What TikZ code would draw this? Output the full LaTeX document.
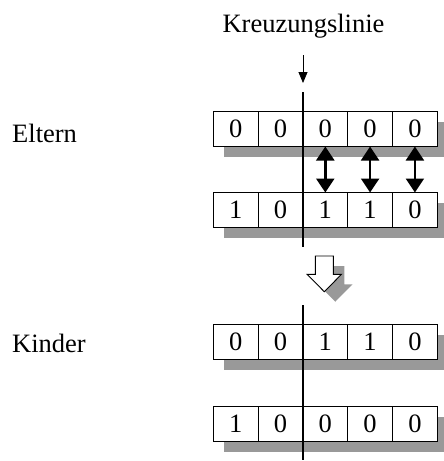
\documentclass[tikz,border=0pt]{standalone}
\usepackage{fontspec}
\setmainfont{Liberation Serif}
\usepackage{tikz}
\usetikzlibrary{arrows.meta,positioning,backgrounds}

\begin{document}
\begin{tikzpicture}[
			x=1pt,y=-1pt,
			node distance=0pt,
			bit/.style={rectangle,draw,fill=white,line width=0.9pt,minimum width=44.8pt,minimum height=35pt,inner sep=0pt,outer sep=0pt,font=\fontsize{26.5}{30}\selectfont},
			tag/.style={inner sep=0pt,font=\fontsize{26.5}{30}\selectfont},
			schatten/.style={fill=black!40},
			kreuz/.style={line width=2.6pt},
			tausch/.style={{Triangle[width=18pt,length=14pt]}-{Triangle[width=18pt,length=14pt]},line width=2.4pt},
			hohl/.style={draw,fill=white,line width=0.9pt,line join=miter}
		]
		\useasboundingbox (0,0) rectangle (444,461);

		\node[tag,anchor=base] (kl) at (303.5,32) {Kreuzungslinie};
		\node[tag,anchor=base west] (eltern) at (12,142) {Eltern};
		\node[tag,anchor=base west] (kinder) at (12,352.7) {Kinder};

		% Eltern
		\node[bit] (ea1) at (235.7,129) {0};
		\node[bit,right=of ea1] (ea2) {0};
		\node[bit,right=of ea2] (ea3) {0};
		\node[bit,right=of ea3] (ea4) {0};
		\node[bit,right=of ea4] (ea5) {0};

		\node[bit] (eb1) at (235.7,210) {1};
		\node[bit,right=of eb1] (eb2) {0};
		\node[bit,right=of eb2] (eb3) {1};
		\node[bit,right=of eb3] (eb4) {1};
		\node[bit,right=of eb4] (eb5) {0};

		% Kinder
		\node[bit] (ka1) at (235.7,342) {0};
		\node[bit,right=of ka1] (ka2) {0};
		\node[bit,right=of ka2] (ka3) {1};
		\node[bit,right=of ka3] (ka4) {1};
		\node[bit,right=of ka4] (ka5) {0};

		\node[bit] (kb1) at (235.7,424) {1};
		\node[bit,right=of kb1] (kb2) {0};
		\node[bit,right=of kb2] (kb3) {0};
		\node[bit,right=of kb3] (kb4) {0};
		\node[bit,right=of kb4] (kb5) {0};

		% Schatten unter den Zeilen
		\begin{scope}[on background layer]
			\fill[schatten] ([shift={(11,10)}]ea1.north west) rectangle ([shift={(11,10)}]ea5.south east);
			\fill[schatten] ([shift={(11,10)}]eb1.north west) rectangle ([shift={(11,10)}]eb5.south east);
			\fill[schatten] ([shift={(11,10)}]ka1.north west) rectangle ([shift={(11,10)}]ka5.south east);
			\fill[schatten] ([shift={(11,10)}]kb1.north west) rectangle ([shift={(11,10)}]kb5.south east);
		\end{scope}

		% Kreuzungslinie
		\coordinate (zs) at (303,55);
		\coordinate (ze) at (303,83);
		\coordinate (kt1) at (303,92);
		\coordinate (kb1) at (303,247);
		\coordinate (kt2) at (303,305);
		\coordinate (kb2) at (303,460);

		\draw[-{Triangle[width=9pt,length=11pt]},line width=0.8pt] (zs) -- (ze);
		\draw[kreuz] (kt1) -- (kb1);
		\draw[kreuz] (kt2) -- (kb2);

		% Austausch
		\draw[tausch] (ea3) -- (eb3);
		\draw[tausch] (ea4) -- (eb4);
		\draw[tausch] (ea5) -- (eb5);

		% Pfeil nach unten
		\coordinate (pf) at (324.3,256);
		\fill[schatten] ([shift={(11,10)}]pf) +(-9,0) -- +(9,0) -- +(9,18.3) -- +(17.2,18.3) -- +(0,35.7) -- +(-17.2,18.3) -- +(-9,18.3) -- cycle;
		\path[hohl] (pf) +(-9,0) -- +(9,0) -- +(9,18.3) -- +(17.2,18.3) -- +(0,35.7) -- +(-17.2,18.3) -- +(-9,18.3) -- cycle;
	\end{tikzpicture}
\end{document}
